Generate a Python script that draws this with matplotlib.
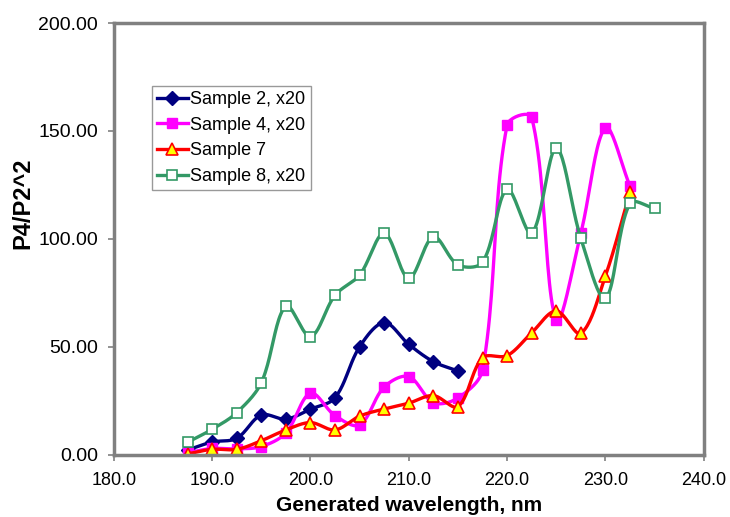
import numpy as np
from matplotlib import pyplot as plt

plt.rcParams["font.family"] = ["Liberation Sans", "DejaVu Sans"]

wl = [187.5, 190, 192.5, 195, 197.5, 200, 202.5, 205, 207.5, 210, 212.5, 215,
      217.5, 220, 222.5, 225, 227.5, 230, 232.5, 235]

s2 = [2.3, 6.0, 7.7, 18.5, 16.6, 21.2, 26.5, 50.1, 61.3, 51.2, 43.2, 38.9]
s4 = [1.0, 3.0, 2.8, 3.9, 10.2, 28.6, 18.2, 13.9, 31.5, 36.3, 24.2, 26.4,
      39.4, 152.8, 156.3, 62.5, 102.7, 151.5, 124.5]
s7 = [0.5, 2.6, 2.6, 6.6, 11.6, 15.0, 11.6, 18.0, 21.3, 24.0, 27.5, 22.4,
      45.0, 46.0, 56.6, 66.7, 56.3, 82.9, 121.6]
s8 = [5.9, 11.9, 19.6, 33.5, 69.0, 54.8, 74.0, 83.3, 102.6, 81.8, 101.0, 88.0,
      89.2, 123.0, 102.6, 142.0, 100.3, 72.5, 116.5, 114.2]


def smooth(x, y, n=24, sx=9.83, sy=2.16):
    # Excel-like smoothed line: Bezier with control points scaled by
    # chord lengths measured on screen (sx, sy = pixels per data unit)
    x = np.asarray(x, float) * sx
    y = np.asarray(y, float) * sy
    px = np.concatenate([[x[0]], x, [x[-1]]])
    py = np.concatenate([[y[0]], y, [y[-1]]])
    d = np.hypot(np.diff(px), np.diff(py))
    t = np.linspace(0, 1, n)
    c = [(1 - t) ** 3, 3 * (1 - t) ** 2 * t, 3 * (1 - t) * t ** 2, t ** 3]
    xs, ys = [], []
    for i in range(1, len(px) - 2):
        dm, d0, dp = d[i - 1], d[i], d[i + 1]
        f1 = d0 / (dm + d0) / 3 if dm + d0 > 0 else 0
        f2 = d0 / (d0 + dp) / 3 if d0 + dp > 0 else 0
        b1x = px[i] + (px[i + 1] - px[i - 1]) * f1
        b1y = py[i] + (py[i + 1] - py[i - 1]) * f1
        b2x = px[i + 1] - (px[i + 2] - px[i]) * f2
        b2y = py[i + 1] - (py[i + 2] - py[i]) * f2
        xs.append(c[0] * px[i] + c[1] * b1x + c[2] * b2x + c[3] * px[i + 1])
        ys.append(c[0] * py[i] + c[1] * b1y + c[2] * b2y + c[3] * py[i + 1])
    return np.concatenate(xs) / sx, np.concatenate(ys) / sy


fig = plt.figure(figsize=(7.3, 5.17), dpi=100)
ax = fig.add_axes([0.156, 0.12, 0.808, 0.8355])

series = [
    ("Sample 2, x20", s2, "#000080", dict(marker="D", ms=7, mfc="#000080", mec="#000080")),
    ("Sample 4, x20", s4, "#FF00FF", dict(marker="s", ms=7, mfc="#FF00FF", mec="#FF00FF")),
    ("Sample 7", s7, "#FF0000", dict(marker="^", ms=9, mfc="#FFFF00", mec="#FF0000", mew=1.2)),
    ("Sample 8, x20", s8, "#339966", dict(marker="s", ms=7, mfc="white", mec="#339966", mew=1.2)),
]

for label, vals, col, mk in series:
    x = wl[:len(vals)]
    sx, sy = smooth(x, vals)
    ax.plot(sx, sy, color=col, lw=2.4, solid_capstyle="round")
    ax.plot(x, vals, ls="none", **mk)
    ax.plot([], [], color=col, lw=2.4, label=label, **mk)

ax.set_xlim(180, 240)
ax.set_ylim(0, 200)
ax.set_xticks(np.arange(180, 241, 10))
ax.set_yticks(np.arange(0, 201, 50))
ax.xaxis.set_major_formatter(plt.FormatStrFormatter("%.1f"))
ax.yaxis.set_major_formatter(plt.FormatStrFormatter("%.2f"))
ax.tick_params(length=4.5, width=1.2, color="#808080", direction="out")
ax.tick_params(axis="x", labelsize=13, pad=7.5)
ax.tick_params(axis="y", labelsize=14, pad=7)
for sp in ax.spines.values():
    sp.set_color("#808080")
    sp.set_linewidth(2.5)

ax.set_xlabel("Generated wavelength, nm", fontsize=15, fontweight="bold")
ax.xaxis.set_label_coords(0.5, -0.095)
ax.set_ylabel("P4/P2^2", fontsize=17, fontweight="bold")
ax.yaxis.set_label_coords(-0.135, 0.583)

leg = ax.legend(loc="upper left", bbox_to_anchor=(0.064, 0.855), fontsize=13,
                frameon=True, fancybox=False, edgecolor="#808080",
                handlelength=1.7, handletextpad=0.15, labelspacing=0.48,
                borderpad=0.3, borderaxespad=0)
leg.get_frame().set_linewidth(1)

plt.savefig("out.png", dpi=100)
